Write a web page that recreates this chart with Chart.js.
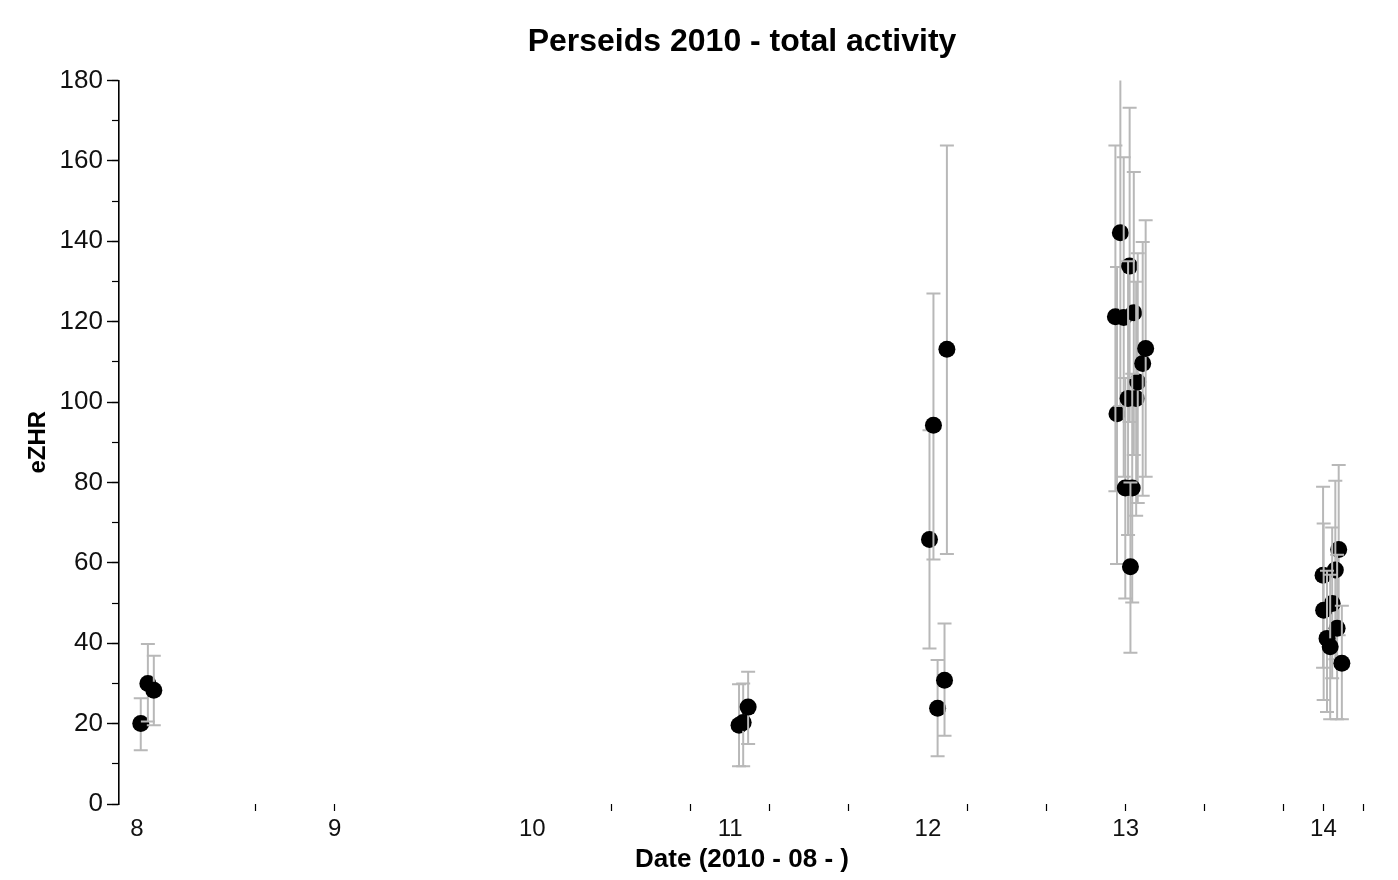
<!DOCTYPE html>
<html>
<head>
<meta charset="utf-8">
<script src="https://cdn.jsdelivr.net/npm/chart.js@4.4.1/dist/chart.umd.min.js"></script>
<style>
  html, body { margin: 0; padding: 0; background: #ffffff; }
  #wrap { width: 1398px; height: 880px; }
</style>
</head>
<body>
<div id="wrap"><canvas id="c" width="1398" height="880"></canvas></div>
<script>
// ---- data ----
// x: date in days of August 2010 (UT), y: eZHR with error-bar limits
const dayX = [
  8.020, 8.056, 8.086,
  11.045, 11.066, 11.091,
  12.008, 12.028, 12.049, 12.084, 12.096,
  12.956, 12.948, 12.973, 12.990, 13.020, 13.041, 13.012, 13.053, 13.061, 13.086, 13.101, 12.998, 13.033, 13.024,
  14.077, 14.060, 13.998, 14.044, 14.001, 14.069, 14.018, 14.034, 14.093
];
const ezhr = [
  20.0, 30.0, 28.3,
  19.6, 20.3, 24.1,
  65.8, 94.2, 23.8, 30.8, 113.1,
  97.1, 121.2, 142.1, 121.0, 133.8, 122.2, 100.9, 100.9, 105.0, 109.6, 113.3, 78.6, 78.6, 59.0,
  63.3, 58.2, 56.9, 49.9, 48.2, 43.7, 41.2, 39.1, 35.0
];
const ezhrLow = [
  13.4, 20.5, 19.6,
  9.4, 9.4, 14.9,
  38.7, 60.8, 11.9, 17.0, 62.2,
  59.7, 77.8, 99.0, 81.4, 95.0, 86.8, 66.9, 71.7, 74.9, 76.7, 81.4, 51.1, 50.1, 37.6,
  42.0, 36.0, 33.9, 31.3, 25.9, 21.1, 22.9, 21.1, 21.1
];
const ezhrHigh = [
  26.3, 39.8, 36.9,
  29.8, 30.0, 32.9,
  93.0, 127.0, 35.8, 44.9, 163.8,
  133.6, 163.8, 183.0, 160.9, 173.2, 157.2, 135.0, 129.9, 137.0, 139.8, 145.2, 106.0, 107.0, 80.0,
  84.3, 80.4, 78.9, 68.8, 69.8, 62.0, 58.0, 57.0, 49.3
];
const xTickValues = [8, 8.6, 9, 10, 10.4, 10.8, 11, 11.2, 11.6, 12, 12.2, 12.6, 13, 13.4, 13.8, 14, 14.2];
const xLabelValues = [8, 9, 10, 11, 12, 13, 14];
const xLabelTexts = ['8', '9', '10', '11', '12', '13', '14'];
const xMarkedTicks = [8.6, 9, 10.4, 10.8, 11.2, 11.6, 12.2, 12.6, 13, 13.4, 13.8, 14, 14.2];
const yMajorStep = 20;
const yMinorStep = 10;

const chartTitle = 'Perseids 2010 - total activity';
const xTitle = 'Date (2010 - 08 - )';
const yTitle = 'eZHR';

// ---- error bar plugin: each point's bar is drawn just before its own point ----
const errorBarPlugin = {
  id: 'errorBars',
  beforeDatasetDraw(chart, args) {
    const i = args.index;
    const { ctx, chartArea, scales } = chart;
    const xs = scales.x, ys = scales.y;
    ctx.save();
    ctx.beginPath();
    ctx.rect(chartArea.left, chartArea.top, chartArea.right - chartArea.left, chartArea.bottom - chartArea.top);
    ctx.clip();
    ctx.strokeStyle = '#b8b8b8';
    ctx.lineWidth = 2;
    const cap = 7;
    const px = xs.getPixelForValue(dayX[i]);
    const pl = ys.getPixelForValue(ezhrLow[i]);
    const ph = ys.getPixelForValue(ezhrHigh[i]);
    ctx.beginPath();
    ctx.moveTo(px, pl); ctx.lineTo(px, ph);
    ctx.moveTo(px - cap, pl); ctx.lineTo(px + cap, pl);
    ctx.moveTo(px - cap, ph); ctx.lineTo(px + cap, ph);
    ctx.stroke();
    ctx.restore();
  }
};

const datasets = dayX.map((d, i) => ({
  label: 'eZHR ' + i,
  data: [{ x: d, y: ezhr[i] }],
  order: -i,
  pointRadius: 8.5,
  pointHoverRadius: 8.5,
  pointBackgroundColor: '#000000',
  pointBorderWidth: 0,
  pointBorderColor: '#000000'
}));
const FONT = "'Liberation Sans', Arial, Helvetica, sans-serif";

new Chart(document.getElementById('c'), {
  type: 'scatter',
  data: { datasets: datasets },
  plugins: [errorBarPlugin],
  options: {
    responsive: false,
    animation: false,
    events: [],
    layout: { padding: { left: 0, right: 33, top: 0, bottom: 7 } },
    plugins: {
      legend: { display: false },
      tooltip: { enabled: false },
      title: {
        display: true,
        text: chartTitle,
        fullSize: false,
        color: '#000',
        font: { family: FONT, size: 32, weight: 'bold', lineHeight: 1.2 },
        padding: { top: 23, bottom: 19 }
      }
    },
    scales: {
      x: {
        type: 'linear',
        min: 7.91,
        max: 14.21,
        border: { display: false },
        grid: {
          drawOnChartArea: false,
          drawTicks: true,
          tickLength: 7,
          tickWidth: 1.2,
          tickColor: (ctx) => (ctx.tick && xMarkedTicks.includes(ctx.tick.value)) ? '#000' : 'rgba(0,0,0,0)'
        },
        afterBuildTicks: (scale) => { scale.ticks = xTickValues.map(v => ({ value: v })); },
        ticks: {
          autoSkip: false,
          maxRotation: 0,
          padding: 6,
          color: '#111',
          font: { family: FONT, size: 24, lineHeight: 1 },
          callback: (v) => { const k = xLabelValues.indexOf(v); return k >= 0 ? xLabelTexts[k] : ''; }
        },
        title: {
          display: true,
          text: xTitle,
          color: '#000',
          font: { family: FONT, size: 26, weight: 'bold', lineHeight: 1 },
          padding: { top: 0, bottom: 0 }
        }
      },
      y: {
        type: 'linear',
        position: 'left',
        weight: 1,
        min: 0,
        max: 180,
        border: { display: true, color: '#000', width: 1.6 },
        grid: { drawOnChartArea: false, drawTicks: true, tickLength: 12, tickWidth: 1.4, tickColor: '#000' },
        ticks: {
          stepSize: yMajorStep,
          padding: 4,
          color: '#111',
          font: { family: FONT, size: 26 },
          autoSkip: false
        },
        title: {
          display: true,
          text: yTitle,
          color: '#000',
          font: { family: FONT, size: 24, weight: 'bold', lineHeight: 1 },
          padding: { top: 26, bottom: 0 }
        },
        afterFit: (scale) => { scale.width = 119; }
      },
      yMinor: {
        type: 'linear',
        position: 'left',
        weight: 0,
        min: 0,
        max: 180,
        border: { display: false },
        grid: { drawOnChartArea: false, drawTicks: true, tickLength: 7, tickWidth: 1.2, tickColor: '#000' },
        ticks: { display: false, stepSize: yMinorStep, autoSkip: false },
        afterFit: (scale) => { scale.width = 0; }
      }
    }
  }
});
</script>
</body>
</html>
